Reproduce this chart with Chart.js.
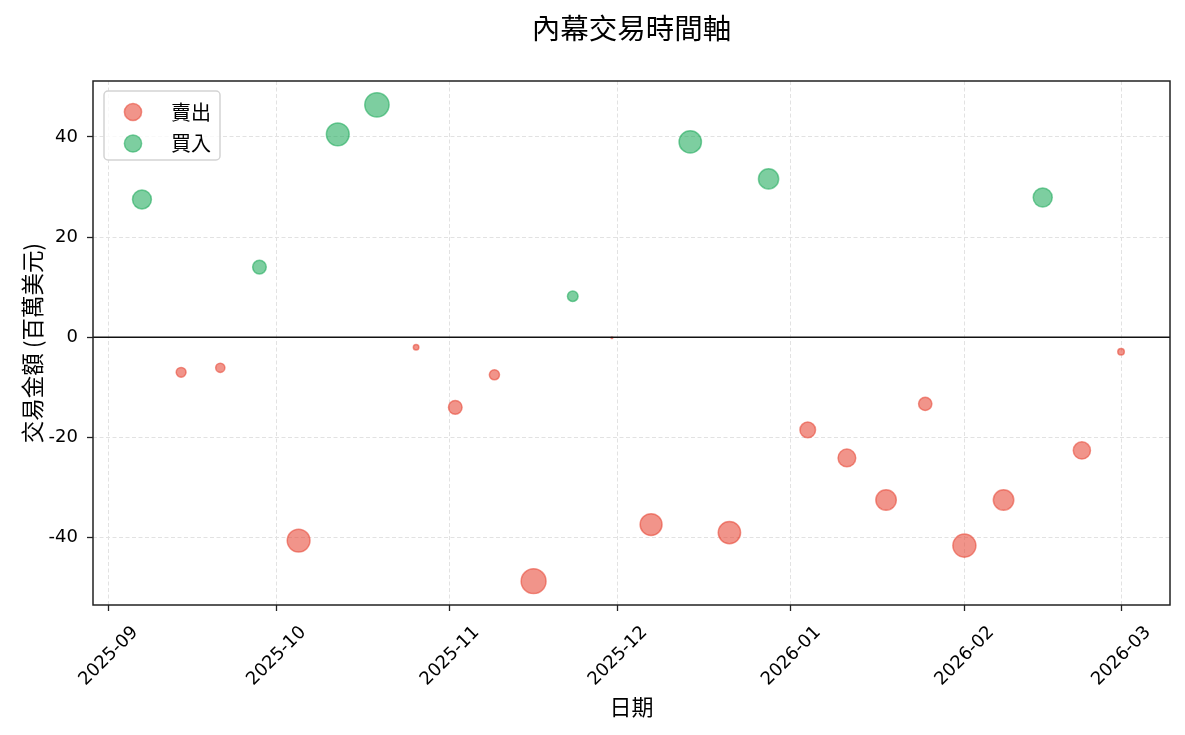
<!DOCTYPE html>
<html><head><meta charset="utf-8">
<script src="https://cdn.jsdelivr.net/npm/chart.js@4.4.1/dist/chart.umd.min.js"></script>
<style>html,body{margin:0;padding:0;background:#fff;} canvas{display:block;}</style>
</head><body>
<canvas id="c" width="1185" height="735"></canvas>
<script>
const sellDates = ['2025-09-14','2025-09-21','2025-10-05','2025-10-26','2025-11-02','2025-11-09','2025-11-16','2025-11-30','2025-12-07','2025-12-21','2026-01-04','2026-01-11','2026-01-18','2026-01-25','2026-02-01','2026-02-08','2026-02-22','2026-03-01'];
const sellValues = [-7.0,-6.1,-40.6,-2.0,-14.0,-7.5,-48.7,-0.1,-37.4,-39.0,-18.5,-24.1,-32.5,-13.3,-41.6,-32.5,-22.6,-2.9];
const buyDates = ['2025-09-07','2025-09-28','2025-10-12','2025-10-19','2025-11-23','2025-12-14','2025-12-28','2026-02-15'];
const buyValues = [27.5,14.0,40.5,46.4,8.2,39.0,31.6,27.9];
const xTickLabels = ['2025-09','2025-10','2025-11','2025-12','2026-01','2026-02','2026-03'];
const yTicks = [-40,-20,0,20,40];
const seriesNames = ['賣出','買入'];
const chartTitle = '內幕交易時間軸';
const xTitle = '日期';
const yTitle = '交易金額 (百萬美元)';

const CJK = '"Noto Sans CJK TC", "Noto Sans CJK SC", sans-serif';
const NUM = '"DejaVu Sans", sans-serif';
const toT = s => { const p = s.split('-').map(Number); return Date.UTC(p[0], p[1]-1, p[2] || 1); };

const allT = sellDates.concat(buyDates).map(toT);
const tMin = Math.min(...allT), tMax = Math.max(...allT);
const tPad = 0.05 * (tMax - tMin);
const allV = sellValues.concat(buyValues);
const vMin = Math.min(...allV), vMax = Math.max(...allV);
const vPad = 0.05 * (vMax - vMin);

const radiusFn = c => { const v = c.raw ? Math.abs(c.raw.y) : 0; return 1.74 * Math.sqrt(v) + 0.3; };
const SELL = 'rgba(231,76,60,0.6)';
const BUY = 'rgba(39,174,96,0.6)';

const framePlugin = {
  id: 'frame',
  afterDatasetsDraw(chart) {
    const {ctx, chartArea: a} = chart;
    const y0 = chart.scales.y.getPixelForValue(0);
    ctx.save();
    ctx.strokeStyle = '#111';
    ctx.lineWidth = 1.3;
    ctx.beginPath(); ctx.moveTo(a.left, y0); ctx.lineTo(a.right, y0); ctx.stroke();
    ctx.restore();
  },
  afterDraw(chart) {
    const {ctx, chartArea: a} = chart;
    ctx.save();
    ctx.strokeStyle = '#222';
    ctx.lineWidth = 1.5;
    ctx.strokeRect(a.left, a.top, a.right - a.left, a.bottom - a.top);
    // legend
    const lx = a.left + 11, ly = a.top + 10, lw = 116, lh = 69;
    ctx.beginPath();
    if (ctx.roundRect) ctx.roundRect(lx, ly, lw, lh, 4); else ctx.rect(lx, ly, lw, lh);
    ctx.fillStyle = 'rgba(255,255,255,0.8)';
    ctx.fill();
    ctx.strokeStyle = '#d3d3d3';
    ctx.lineWidth = 1.5;
    ctx.stroke();
    chart.data.datasets.forEach((ds, i) => {
      const cy = ly + 21 + i * 31.5;
      ctx.beginPath();
      ctx.arc(lx + 29, cy, 8.6, 0, Math.PI * 2);
      ctx.fillStyle = ds.backgroundColor; ctx.fill();
      ctx.strokeStyle = ds.borderColor; ctx.lineWidth = 1.5; ctx.stroke();
      ctx.fillStyle = '#000';
      ctx.font = '20px ' + CJK;
      ctx.textBaseline = 'middle';
      ctx.textAlign = 'left';
      ctx.fillText(ds.label, lx + 67, cy);
    });
    ctx.restore();
  }
};

new Chart(document.getElementById('c'), {
  type: 'scatter',
  data: {
    datasets: [
      { label: seriesNames[0], data: sellDates.map((d, i) => ({x: toT(d), y: sellValues[i]})),
        backgroundColor: SELL, borderColor: SELL, borderWidth: 1.5, pointRadius: radiusFn, pointHoverRadius: radiusFn },
      { label: seriesNames[1], data: buyDates.map((d, i) => ({x: toT(d), y: buyValues[i]})),
        backgroundColor: BUY, borderColor: BUY, borderWidth: 1.5, pointRadius: radiusFn, pointHoverRadius: radiusFn }
    ]
  },
  options: {
    responsive: false,
    animation: false,
    events: [],
    layout: { padding: { left: 0, right: 15, top: 0, bottom: 10 } },
    plugins: {
      legend: { display: false },
      tooltip: { enabled: false },
      title: { display: true, text: chartTitle, fullSize: false, color: '#000',
        font: { family: CJK, size: 28.5, weight: 'normal' }, padding: { top: 10.9, bottom: 35.9 } }
    },
    scales: {
      x: {
        type: 'linear', min: tMin - tPad, max: tMax + tPad,
        afterBuildTicks: s => { s.ticks = xTickLabels.map(l => ({ value: toT(l + '-01') })); },
        afterFit: s => { s.height = 120; },
        ticks: {
          autoSkip: false, maxRotation: 45, minRotation: 45, labelOffset: 27, padding: 11,
          color: '#000', font: { family: NUM, size: 18 },
          callback: v => { const d = new Date(v); return d.getUTCFullYear() + '-' + String(d.getUTCMonth() + 1).padStart(2, '0'); }
        },
        grid: { color: '#e2e2e2', lineWidth: 1, tickLength: 6, tickColor: '#222', tickWidth: 1.3, tickBorderDash: [] },
        border: { display: false, dash: [4, 2.5] },
        title: { display: true, text: xTitle, color: '#000', font: { family: CJK, size: 22 }, padding: { top: 0, bottom: 5 } }
      },
      y: {
        min: vMin - vPad, max: vMax + vPad,
        afterBuildTicks: s => { s.ticks = yTicks.map(v => ({ value: v })); },
        afterFit: s => { s.width = 93; },
        ticks: { padding: 9, color: '#000', font: { family: NUM, size: 18 }, callback: v => String(v) },
        grid: { color: '#e2e2e2', lineWidth: 1, tickLength: 6, tickColor: '#222', tickWidth: 1.3, tickBorderDash: [] },
        border: { display: false, dash: [4, 2.5] },
        title: { display: true, text: yTitle, color: '#000', font: { family: CJK, size: 22.5 }, padding: { top: 19, bottom: 0 } }
      }
    }
  },
  plugins: [framePlugin]
});
</script>
</body></html>
